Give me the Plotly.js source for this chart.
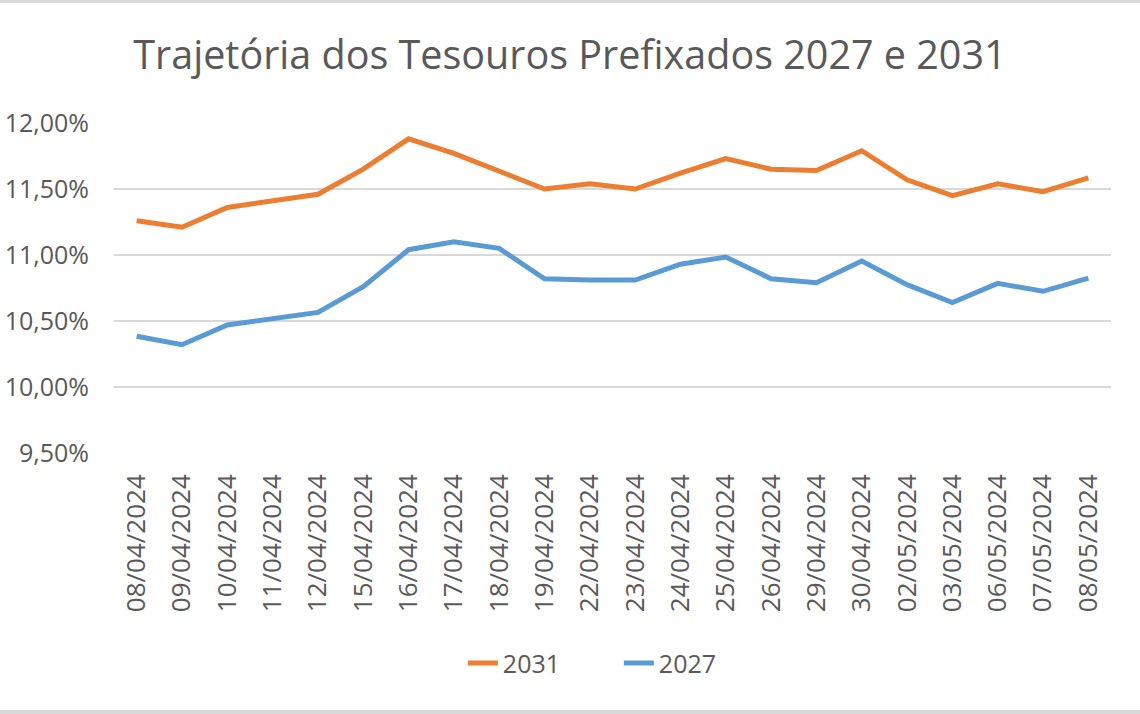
<!DOCTYPE html>
<html>
<head>
<meta charset="utf-8">
<script src="https://cdn.plot.ly/plotly-3.0.1.min.js"></script>
<style>
  html, body { margin: 0; padding: 0; background: #fff; }
  #frame {
    width: 1140px;
    height: 707px;
    border-top: 3px solid #d9d9d9;
    border-bottom: 4px solid #d9d9d9;
  }
  #chart { width: 1140px; height: 707px; }
</style>
</head>
<body>
<div id="frame"><div id="chart"></div></div>
<script>
// dates on the x axis
const dates = [
    '08/04/2024', '09/04/2024', '10/04/2024', '11/04/2024', '12/04/2024',
    '15/04/2024', '16/04/2024', '17/04/2024', '18/04/2024', '19/04/2024',
    '22/04/2024', '23/04/2024', '24/04/2024', '25/04/2024', '26/04/2024',
    '29/04/2024', '30/04/2024', '02/05/2024', '03/05/2024', '06/05/2024',
    '07/05/2024', '08/05/2024'
];

// yields in %
const yield2031 = [
    11.26, 11.21, 11.36, 11.41, 11.46, 11.65, 11.88, 11.77, 11.635, 11.50,
    11.54, 11.50, 11.62, 11.73, 11.65, 11.64, 11.79, 11.57, 11.45, 11.54,
    11.48, 11.585
];
const yield2027 = [
    10.385, 10.32, 10.47, 10.52, 10.565, 10.76, 11.04, 11.10, 11.05, 10.82,
    10.81, 10.81, 10.93, 10.985, 10.82, 10.79, 10.955, 10.775, 10.64, 10.785,
    10.725, 10.825
];

const yTicks = [9.5, 10, 10.5, 11, 11.5, 12];
const yTickText = ['9,50%', '10,00%', '10,50%', '11,00%', '11,50%', '12,00%'];

const textColor = '#595959';
const font = 'Open Sans, sans-serif';

const traces = [
    {
        x: dates,
        y: yield2031,
        type: 'scatter',
        mode: 'lines',
        name: '2031',
        line: { color: '#ED7D31', width: 5 }
    },
    {
        x: dates,
        y: yield2027,
        type: 'scatter',
        mode: 'lines',
        name: '2027',
        line: { color: '#5B9BD5', width: 5 }
    }
];

const layout = {
    width: 1140,
    height: 707,
    paper_bgcolor: '#ffffff',
    plot_bgcolor: '#ffffff',
    margin: { l: 114, r: 29, t: 120, b: 257 },
    font: { family: font, color: textColor, size: 25 },
    title: {
        text: 'Trajetória dos Tesouros Prefixados 2027 e 2031',
        font: { family: font, size: 39.5, color: textColor },
        x: 0.5,
        xanchor: 'center',
        yref: 'container',
        y: 0.926,
        yanchor: 'middle'
    },
    xaxis: {
        type: 'category',
        range: [-0.5, dates.length - 0.5],
        tickangle: -90,
        tickfont: { family: font, size: 26, color: textColor },
        showgrid: false,
        showline: false,
        zeroline: false,
        ticks: '',
        ticklabelstandoff: 15
    },
    yaxis: {
        range: [9.5, 12],
        tickvals: yTicks,
        ticktext: yTickText,
        tickfont: { family: font, size: 25, color: textColor },
        showgrid: true,
        gridcolor: '#d9d9d9',
        gridwidth: 1.5,
        zeroline: false,
        showline: false,
        ticks: '',
        ticklabelstandoff: 24
    },
    showlegend: true,
    legend: {
        orientation: 'h',
        xref: 'container',
        x: 0.406,
        xanchor: 'left',
        yref: 'container',
        y: 0.066,
        yanchor: 'middle',
        font: { family: font, size: 25, color: textColor },
        entrywidth: 111,
        entrywidthmode: 'pixels'
    }
};

Plotly.newPlot('chart', traces, layout, { staticPlot: true, displayModeBar: false });
</script>
</body>
</html>
